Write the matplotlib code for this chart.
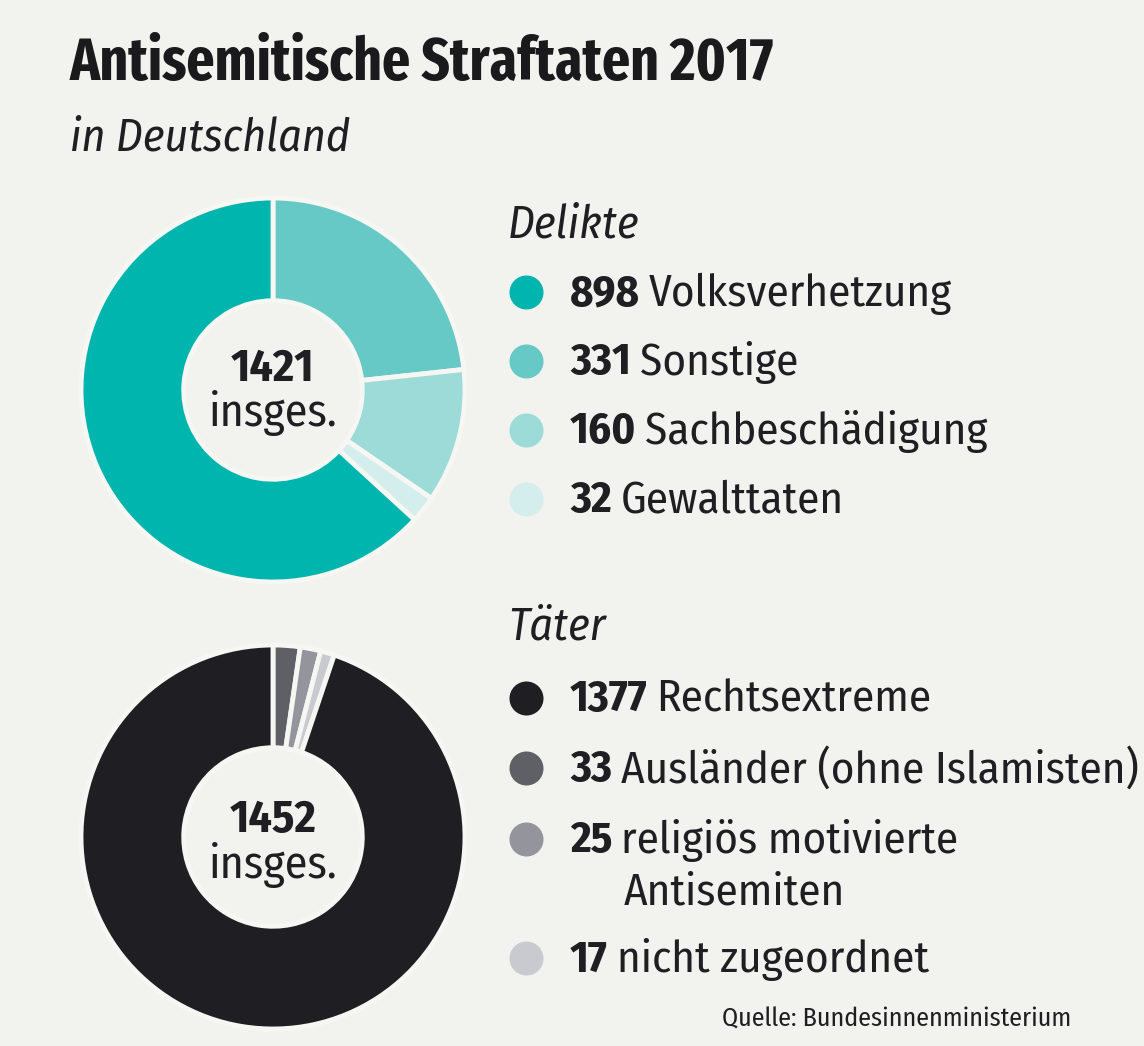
import matplotlib
matplotlib.use("Agg")
import matplotlib.pyplot as plt

title = "Antisemitische Straftaten 2017"
subtitle = "in Deutschland"
source = "Quelle: Bundesinnenministerium"

delikte_values = [898, 331, 160, 32]
delikte_labels = ["Volksverhetzung", "Sonstige", "Sachbeschädigung", "Gewalttaten"]
delikte_colors = ["#00b5ad", "#66c9c5", "#9cdbd8", "#d3eeec"]
delikte_total = 1421

taeter_values = [1377, 33, 25, 17]
taeter_labels = ["Rechtsextreme", "Ausländer (ohne Islamisten)", "religiös motivierte\nAntisemiten", "nicht zugeordnet"]
taeter_colors = ["#1f1e22", "#5f6065", "#94959c", "#c9cad0"]
taeter_total = 1452

BG = "#f2f2ef"
SEP = "#f6f6f3"
INK = "#1f1e22"
W, H = 1144, 1046
FONT = ["Fira Sans Condensed", "Roboto Condensed", "Open Sans", "DejaVu Sans"]
TITLE_FONT = ["Fira Sans Extra Condensed", "Fira Sans Condensed", "Roboto Condensed", "DejaVu Sans"]


def px(x, y):
    return x / W, 1 - y / H


def donut(fig, cx, cy, values, colors, total, label_dy):
    r = 192
    ax = fig.add_axes([(cx - r) / W, 1 - (cy + r) / H, 2 * r / W, 2 * r / H])
    # first value sits last so that the small slices start at 12 o'clock
    ax.pie(values[1:] + values[:1], colors=colors[1:] + colors[:1], startangle=90, counterclock=False,
           radius=1, wedgeprops=dict(width=0.535, edgecolor=SEP, linewidth=3.5))
    ax.set_xlim(-1, 1)
    ax.set_ylim(-1, 1)
    dy = label_dy / r
    ax.text(0, 0.125 - dy, str(total), ha="center", va="center", fontsize=33, fontweight="bold", family=FONT, color=INK)
    ax.text(0, -0.105 - dy, "insges.", ha="center", va="center", fontsize=33, family=FONT, color=INK)


def legend(fig, overlay, heading, heading_y, ys, values, labels, colors):
    fig.text(*px(508, heading_y), heading, fontsize=33, style="italic", family=FONT, color=INK, va="center")
    for y, v, lab, c in zip(ys, values, labels, colors):
        overlay.scatter([526], [y], s=600, color=c, linewidths=0)
        t = fig.text(*px(570, y + 2), str(v), fontsize=32, fontweight="bold", family=FONT, color=INK, va="center")
        fig.canvas.draw()
        bb = t.get_window_extent()
        lines = lab.split("\n")
        fig.text((bb.x1 + 9) / W, 1 - (y + 2) / H, lines[0], fontsize=32.4, family=FONT, color=INK, va="center")
        if len(lines) > 1:
            fig.text(*px(624, y + 54), lines[1], fontsize=32.4, family=FONT, color=INK, va="center")


fig = plt.figure(figsize=(W / 100, H / 100), dpi=100, facecolor=BG)

overlay = fig.add_axes([0, 0, 1, 1])
overlay.set_xlim(0, W)
overlay.set_ylim(H, 0)
overlay.axis("off")

fig.text(*px(70, 64), title, fontsize=43.2, fontweight="bold", family=TITLE_FONT, color="#1a1a1d", va="center")
fig.text(*px(70, 138), subtitle, fontsize=33, style="italic", family=FONT, color=INK, va="center")

donut(fig, 273, 390, delikte_values, delikte_colors, delikte_total, 3)
donut(fig, 273, 837, taeter_values, taeter_colors, taeter_total, 7.5)

legend(fig, overlay, "Delikte", 225, [292, 361, 430, 499], delikte_values, delikte_labels, delikte_colors)
legend(fig, overlay, "Täter", 627, [698, 768, 839, 958], taeter_values, taeter_labels, taeter_colors)

fig.text(*px(722, 1019), source, fontsize=18.7, family=FONT, color=INK, va="center")

fig.savefig("out.png", dpi=100, facecolor=BG)
